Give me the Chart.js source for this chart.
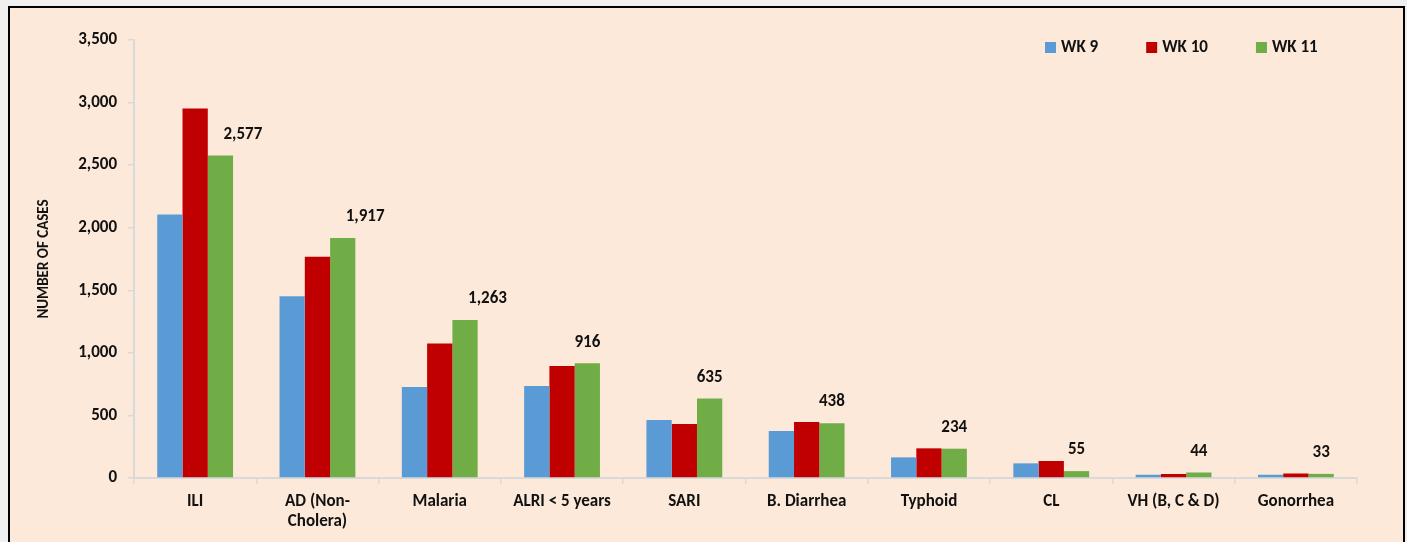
<!DOCTYPE html>
<html>
<head>
<meta charset="utf-8">
<script src="https://cdn.jsdelivr.net/npm/chart.js@4"></script>
<style>
  html, body { margin: 0; padding: 0; background: #f0f0f0; overflow: hidden; }
  #wrap { position: absolute; left: 0; top: 0; width: 1407px; height: 542px; }
</style>
</head>
<body>
<div id="wrap"><canvas id="myChart" width="1407" height="542"></canvas></div>
<script>
var categories = ["ILI", ["AD (Non-", "Cholera)"], "Malaria", "ALRI < 5 years", "SARI",
  "B. Diarrhea", "Typhoid", "CL", "VH (B, C & D)", "Gonorrhea"];
var seriesNames = ["WK 9", "WK 10", "WK 11"];
var wk9 = [2105, 1452, 727, 735, 464, 376, 165, 117, 26, 26];
var wk10 = [2952, 1767, 1074, 895, 432, 448, 237, 136, 32, 36];
var wk11 = [2577, 1917, 1263, 916, 635, 438, 234, 55, 44, 33];
var yTicks = [0, 500, 1000, 1500, 2000, 2500, 3000, 3500];

var FONT = "Carlito, Lato, sans-serif";
var TEXT = "#111111";
var AXIS = "#d9d9d9";

// page background, peach panel and black frame
var frame = {
  id: "frame",
  beforeDraw: function (chart) {
    var c = chart.ctx;
    c.save();
    c.fillStyle = "#f0f0f0";
    c.fillRect(0, 0, chart.width, chart.height);
    c.fillStyle = "#000";
    c.fillRect(8, 6, 1397, chart.height);
    c.fillStyle = "#fde9d9";
    c.fillRect(10, 8, 1393, chart.height);
    c.restore();
  }
};

// value labels over the WK 11 bars
var valueLabels = {
  id: "valueLabels",
  afterDatasetsDraw: function (chart) {
    var c = chart.ctx;
    var meta = chart.getDatasetMeta(2);
    c.save();
    c.font = "bold 17px " + FONT;
    c.fillStyle = TEXT;
    c.textBaseline = "middle";
    meta.data.forEach(function (bar, i) {
      // the wider (thousands) labels sit a little to the right in the original
      c.textAlign = wk11[i] >= 1000 ? "left" : "center";
      c.fillText(wk11[i].toLocaleString("en-US"), bar.x + (wk11[i] >= 1000 ? 3 : 0), bar.y - 21);
    });
    c.restore();
  }
};

// legend inside the plot, top right
var legendBox = {
  id: "legendBox",
  afterDraw: function (chart) {
    var c = chart.ctx;
    var x = 1045, y = 42;
    c.save();
    c.font = "bold 17px " + FONT;
    c.textBaseline = "middle";
    chart.data.datasets.forEach(function (ds) {
      c.fillStyle = ds.backgroundColor;
      c.fillRect(x, y, 11, 11);
      c.fillStyle = TEXT;
      c.fillText(ds.label, x + 16, y + 6);
      x += 16 + c.measureText(ds.label).width + 48;
    });
    c.restore();
  }
};

var ctx = document.getElementById("myChart").getContext("2d");
var chart = new Chart(ctx, {
  type: "bar",
  data: {
    labels: categories,
    datasets: [
      { label: seriesNames[0], data: wk9, backgroundColor: "#5b9bd5" },
      { label: seriesNames[1], data: wk10, backgroundColor: "#c00000" },
      { label: seriesNames[2], data: wk11, backgroundColor: "#70ad47" }
    ]
  },
  options: {
    responsive: false,
    animation: false,
    layout: { padding: { left: 0, right: 50, top: 40, bottom: 0 } },
    datasets: { bar: { categoryPercentage: 0.62, barPercentage: 1.0 } },
    plugins: {
      legend: { display: false },
      tooltip: { enabled: false }
    },
    scales: {
      x: {
        offset: true,
        grid: { display: true, offset: true, drawOnChartArea: false, drawTicks: true, tickLength: 6, color: AXIS, lineWidth: 1.5 },
        border: { color: AXIS, width: 2 },
        ticks: { color: TEXT, font: { family: FONT, size: 17, weight: "bold", lineHeight: 1.15 }, padding: 8, maxRotation: 0, autoSkip: false },
        afterFit: function (s) { s.height = 64; }
      },
      y: {
        min: 0,
        max: 3500,
        afterBuildTicks: function (s) { s.ticks = yTicks.map(function (v) { return { value: v }; }); },
        grid: { display: true, drawOnChartArea: false, drawTicks: true, tickLength: 6, color: AXIS, lineWidth: 1.5 },
        border: { color: AXIS, width: 2 },
        ticks: {
          color: TEXT,
          font: { family: FONT, size: 17, weight: "bold" },
          padding: 11,
          callback: function (v) { return Number(v).toLocaleString("en-US"); }
        },
        title: {
          display: true,
          text: "NUMBER OF CASES",
          color: TEXT,
          font: { family: FONT, size: 15, weight: "bold" },
          padding: { top: 35, bottom: 0 }
        },
        afterFit: function (s) { s.width = 134; }
      }
    }
  },
  plugins: [frame, valueLabels, legendBox]
});
</script>
</body>
</html>
